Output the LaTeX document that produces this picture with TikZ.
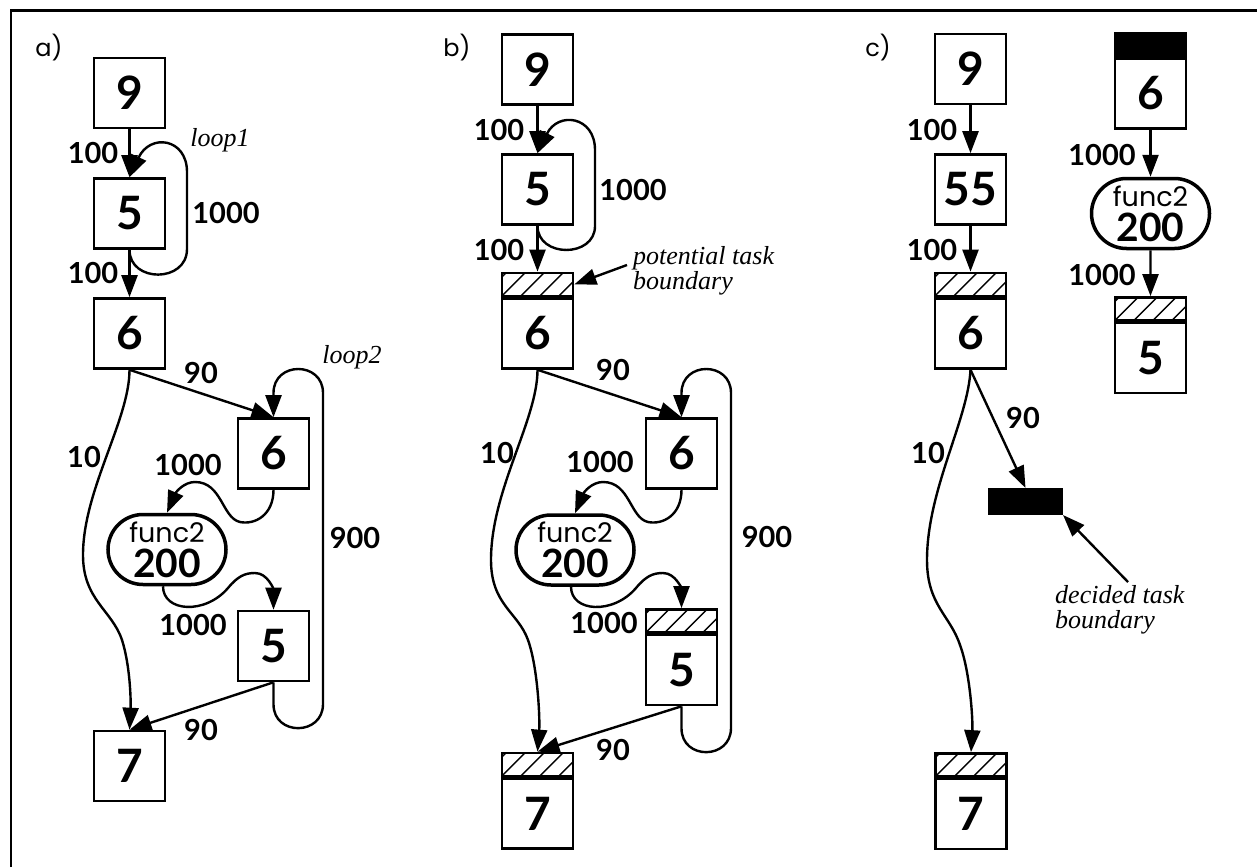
\documentclass[tikz,border=0pt]{standalone}
\usepackage{fontspec}
\setmainfont{Lato}
\newfontfamily\geo{Poppins}
\newfontfamily\serifit{Liberation Serif}
\usetikzlibrary{arrows.meta,shapes.misc}
\newcommand\functext{{\geo\fontsize{27}{35}\selectfont func2}\\{\bfseries 200}}
\begin{document}
\begin{tikzpicture}[x=1pt,y=-1pt,
  nbox/.style={draw,line width=2.6pt,minimum width=71pt,minimum height=70pt,inner sep=0pt,font=\fontsize{46}{46}\selectfont\bfseries},
  hband/.style={draw,line width=2.6pt,minimum width=71pt,minimum height=23pt,inner sep=0pt,anchor=south,
    path picture={\foreach \k in {-3,...,4}{\draw[line width=1.4pt] ([xshift=\k*19pt]path picture bounding box.south west) -- ++(34pt,34pt);}}},
  bband/.style={draw,fill=black,line width=2.6pt,minimum width=71pt,minimum height=23pt,inner sep=0pt,anchor=south},
  stad/.style={draw,rounded rectangle,rounded rectangle arc length=180,line width=3.5pt,minimum width=118pt,minimum height=70pt,inner sep=0pt,align=center,font=\fontsize{39}{35}\selectfont},
  elab/.style={inner sep=0pt,font=\fontsize{29}{29}\selectfont\bfseries},
  plab/.style={inner sep=0pt,font=\geo\fontsize{24}{24}\selectfont},
  itxt/.style={inner sep=0pt,font=\serifit\itshape\fontsize{26}{25}\selectfont},
  conn/.style={draw,line width=2.4pt,-{Triangle[length=22pt,width=16pt]}},
  blk/.style={draw,fill=black,line width=1pt,minimum width=74pt,minimum height=26pt,inner sep=0pt}
]
\useasboundingbox (0,0) rectangle (1257,867);
\fill[white] (0,0) rectangle (1257,867);
\draw[line width=2.5pt] (11,867) -- (11,10.5) -- (1257,10.5);

% ---------------- panel a ----------------
\node[plab] (pa) at (49,48) {a)};
\node[nbox] (a9) at (129.5,93) {9};
\node[nbox] (a5) at (129.5,213.5) {5};
\node[nbox] (a6) at (129.5,333.5) {6};
\node[nbox] (a6b) at (273.5,453.5) {6};
\node[stad] (af) at (167,549.5) {\functext};
\node[nbox] (a5b) at (273.5,646) {5};
\node[nbox] (a7) at (129.5,766) {7};

\draw[conn] (a9) -- (a5);
\draw[conn] (a5.south) .. controls (129.5,283) and (187,283) .. (187,249) -- (187,172) .. controls (187,138) and (150,133) .. (a5.north);
\draw[conn] (a5) -- (a6);
\draw[conn] (a6.south) -- (a6b.north);
\draw[conn] (a5b.south) -- ++(0,22) .. controls +(0,32) and +(0,32) .. (323,704) -- (323,393) .. controls +(0,-32) and +(0,-32) .. (273.5,393) -- (a6b.north);
\draw[conn] (a6b.south) .. controls (273.5,515) and (255,525) .. (240,522) .. controls (222,518) and (222,482) .. (195,482) .. controls (184,482) and (176,492) .. (af.north);
\draw[conn] ([xshift=-4pt]af.south) .. controls (163,612) and (205,615) .. (228,588) .. controls (238,576) and (245,573) .. (255,573) .. controls (268,573) and (273.5,590) .. (a5b.north);
\draw[conn] (a6.south) .. controls (129.5,420) and (83,490) .. (83,555) .. controls (83,600) and (112,610) .. (122,640) .. controls (130,665) and (131,700) .. (a7.north);
\draw[conn] (a5b.south) -- (a7.north);

\node[elab] (la1) at (93,153) {100};
\node[elab] (la2) at (93,273) {100};
\node[elab] (la3) at (226,213) {1000};
\node[itxt] (la4) at (220,140) {loop1};
\node[elab] (la5) at (201,373) {90};
\node[itxt] (la6) at (352,357) {loop2};
\node[elab] (la7) at (84,457) {10};
\node[elab] (la8) at (188,465) {1000};
\node[elab] (la9) at (355,538) {900};
\node[elab] (la10) at (193,625) {1000};
\node[elab] (la11) at (201,730) {90};

% ---------------- panel b ----------------
\node[plab] (pb) at (457,48) {b)};
\node[nbox] (b9) at (537.5,69.5) {9};
\node[nbox] (b5) at (537.5,189.5) {5};
\node[nbox] (b6) at (537.5,333.5) {6};
\node[hband] (b6h) at (b6.north) {};
\node[nbox] (b6b) at (681.5,453.5) {6};
\node[stad] (bf) at (575,550) {\functext};
\node[nbox] (b5b) at (681.5,670) {5};
\node[hband] (b5bh) at (b5b.north) {};
\node[nbox] (b7) at (537.5,813.5) {7};
\node[hband] (b7h) at (b7.north) {};

\draw[conn] (b9) -- (b5);
\draw[conn] (b5.south) .. controls (537.5,258) and (595,258) .. (595,226) -- (595,150) .. controls (595,116) and (558,111) .. (b5.north);
\draw[conn] (b5) -- (b6h);
\draw[conn] (b6.south) -- (b6b.north);
\draw[conn] (b5b.south) -- ++(0,22) .. controls +(0,32) and +(0,32) .. (731,728) -- (731,393) .. controls +(0,-32) and +(0,-32) .. (681.5,393) -- (b6b.north);
\draw[conn] (b6b.south) .. controls (681.5,515) and (663,525) .. (648,522) .. controls (630,518) and (630,482) .. (603,482) .. controls (592,482) and (584,492) .. (bf.north);
\draw[conn] ([xshift=-4pt]bf.south) .. controls (571,612) and (613,615) .. (636,588) .. controls (646,576) and (653,573) .. (663,573) .. controls (676,573) and (681.5,590) .. (b5bh.north);
\draw[conn] (b6.south) .. controls (537.5,420) and (491,490) .. (491,560) .. controls (491,605) and (518,612) .. (528,640) .. controls (538,668) and (540,720) .. (b7h.north);
\draw[conn] (b5b.south) -- (b7h.north);

\coordinate (ptc) at (627,265);
\node[itxt,anchor=west,align=left] (ptxt) at (633,271) {potential task\\boundary};
\draw[conn] (ptc) -- (b6h.east);

\node[elab] (lb1) at (499,130) {100};
\node[elab] (lb2) at (499,250) {100};
\node[elab] (lb3) at (633,190) {1000};
\node[elab] (lb5) at (613,370) {90};
\node[elab] (lb7) at (497,453) {10};
\node[elab] (lb8) at (600,462) {1000};
\node[elab] (lb9) at (767,537) {900};
\node[elab] (lb10) at (604,623) {1000};
\node[elab] (lb11) at (613,750) {90};

% ---------------- panel c ----------------
\node[plab] (pc) at (878,48) {c)};
\node[nbox] (c9) at (970.5,69) {9};
\node[nbox] (c55) at (970.5,189.5) {55};
\node[nbox] (c6) at (970.5,333.5) {6};
\node[hband] (c6h) at (c6.north) {};
\node[nbox] (c6r) at (1150.5,93.5) {6};
\node[bband] (c6rh) at (c6r.north) {};
\node[stad] (cf) at (1150.5,213.5) {\functext};
\node[nbox] (c5r) at (1150.5,358) {5};
\node[hband] (c5rh) at (c5r.north) {};
\node[blk] (cd) at (1025.5,501.5) {};
\node[nbox] (c7) at (971,814) {7};
\node[hband] (c7h) at (c7.north) {};

\draw[conn] (c9) -- (c55);
\draw[conn] (c55) -- (c6h);
\draw[conn] (c6r) -- (cf);
\draw[conn] (cf) -- (c5rh);
\draw[conn] (c6.south) -- (cd.north);
\draw[conn] (c6.south) .. controls (968,420) and (927,490) .. (927,560) .. controls (927,605) and (950,615) .. (960,645) .. controls (970,672) and (973,720) .. (c7h.north);

\coordinate (dtc) at (1128,582);
\draw[conn] (dtc) -- (cd.south east);
\node[itxt,anchor=west,align=left] (dtxt) at (1055,609.5) {decided task\\boundary};

\node[elab] (lc1) at (932,130) {100};
\node[elab] (lc2) at (932,250) {100};
\node[elab] (lc3) at (1102,155) {1000};
\node[elab] (lc4) at (1102,275) {1000};
\node[elab] (lc5) at (1023,418) {90};
\node[elab] (lc6) at (928,453) {10};
\end{tikzpicture}
\end{document}
